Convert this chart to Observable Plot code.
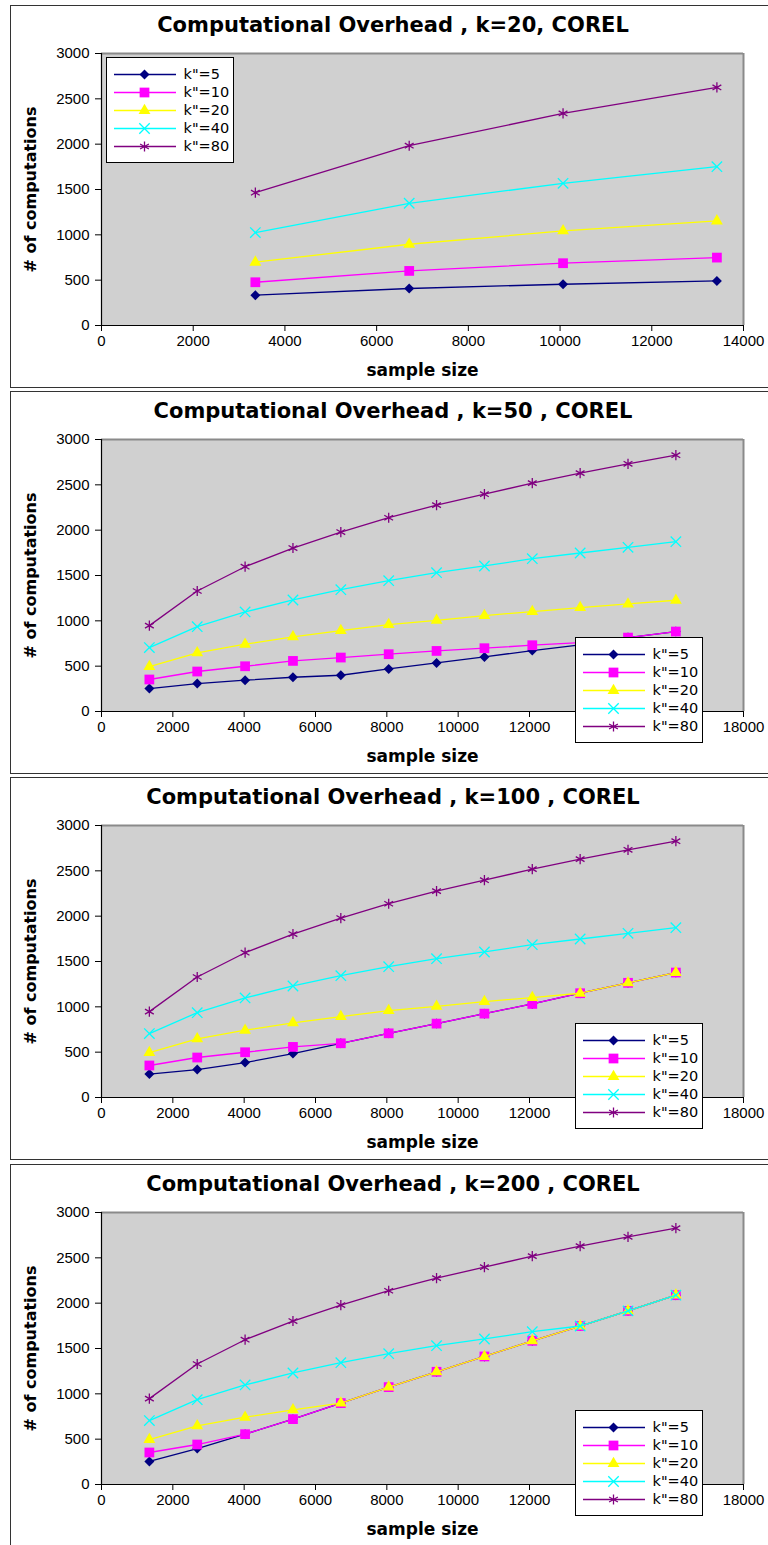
<!DOCTYPE html>
<html><head><meta charset="utf-8">
<script src="https://cdn.jsdelivr.net/npm/d3@7"></script>
<script src="https://cdn.jsdelivr.net/npm/@observablehq/plot@0.6"></script>
<style>
body{margin:0;background:#fff;width:768px;height:1545px;overflow:hidden;position:relative;}
.panel{position:absolute;left:10px;width:790px;height:383px;box-sizing:border-box;border:1px solid #333;background:#fff;}
.title{position:absolute;left:0;width:764px;text-align:center;top:7px;font-family:"DejaVu Sans",sans-serif;font-weight:bold;font-size:21px;line-height:24px;color:#000;}
.legend{position:absolute;width:128px;height:106px;box-sizing:border-box;border:1px solid #000;background:#fff;}
.panel svg{position:absolute;left:0;top:0;}
.legend svg{position:absolute;left:0;top:0;}
</style></head><body>
<script>
// ---- shared
const seriesLabels = ['k"=5', 'k"=10', 'k"=20', 'k"=40', 'k"=80'];
const seriesColors = ["#000080", "#ff00ff", "#ffff00", "#00ffff", "#800080"];
const seriesSymbols = ["diamond2", "square", "triangle", "times", "asterisk"];
const yTicks = [0, 500, 1000, 1500, 2000, 2500, 3000];
const xTicksK20 = [0, 2000, 4000, 6000, 8000, 10000, 12000, 14000];
const xTicksOther = [0, 2000, 4000, 6000, 8000, 10000, 12000, 14000, 16000, 18000];
// tick labels that are hidden under the legend box in the lower panels
const xTicksHiddenOther = [14000, 16000];
const titles = [
  "Computational Overhead , k=20, COREL",
  "Computational Overhead , k=50 , COREL",
  "Computational Overhead , k=100 , COREL",
  "Computational Overhead , k=200 , COREL"
];
const xLabel = "sample size";
const yLabel = "# of computations";

// ---- panel 1: k=20
const sizesK20 = [3355, 6710, 10065, 13420];
const k20_s5  = [334, 408, 455, 492];
const k20_s10 = [477, 602, 687, 749];
const k20_s20 = [698, 896, 1043, 1153];
const k20_s40 = [1025, 1348, 1568, 1752];
const k20_s80 = [1465, 1983, 2339, 2626];

// ---- panels 2-4 sample sizes
const sizes = [1342, 2684, 4026, 5368, 6710, 8052, 9394, 10736, 12078, 13420, 14762, 16104];

// ---- panel 2: k=50
const k50_s5  = [253, 308, 345, 378, 400, 470, 536, 602, 672, 735, 815, 882];
const k50_s10 = [353, 441, 499, 558, 595, 632, 668, 698, 731, 760, 815, 882];
const k50_s20 = [496, 646, 742, 823, 892, 958, 1006, 1058, 1102, 1146, 1186, 1227];
const k50_s40 = [705, 936, 1098, 1230, 1344, 1443, 1531, 1605, 1686, 1748, 1811, 1873];
const k50_s80 = [947, 1329, 1597, 1803, 1979, 2137, 2276, 2397, 2519, 2629, 2732, 2827];

// ---- panel 3: k=100
const k100_s5  = [258, 308, 385, 484, 598, 708, 815, 925, 1032, 1150, 1265, 1378];
const k100_s10 = [353, 441, 499, 558, 598, 708, 815, 925, 1032, 1150, 1265, 1378];
const k100_s20 = [496, 646, 742, 823, 892, 958, 1006, 1058, 1102, 1150, 1265, 1378];
const k100_s40 = [705, 936, 1098, 1230, 1344, 1443, 1531, 1605, 1686, 1748, 1811, 1873];
const k100_s80 = [947, 1329, 1597, 1803, 1979, 2137, 2276, 2397, 2519, 2629, 2732, 2827];

// ---- panel 4: k=200
const k200_s5  = [254, 397, 555, 721, 898, 1074, 1243, 1412, 1585, 1748, 1915, 2088];
const k200_s10 = [353, 441, 555, 721, 898, 1074, 1243, 1412, 1585, 1748, 1915, 2088];
const k200_s20 = [496, 646, 742, 823, 898, 1074, 1243, 1412, 1585, 1748, 1915, 2088];
const k200_s40 = [705, 936, 1098, 1230, 1344, 1443, 1531, 1605, 1686, 1748, 1915, 2088];
const k200_s80 = [947, 1329, 1597, 1803, 1979, 2137, 2276, 2397, 2519, 2629, 2732, 2827];

const seriesR = [4.5, 5.5, 4.4, 4.8, 4.8];

function isStroked(s) { return seriesSymbols[s] === "times" || seriesSymbols[s] === "asterisk"; }

function makeLegend(panel, left, top) {
  const div = document.createElement("div");
  div.className = "legend";
  div.style.left = left + "px";
  div.style.top = top + "px";
  panel.appendChild(div);
  const items = seriesLabels.map((label, s) => ({label, s}));
  const marks = [];
  items.forEach(it => {
    marks.push(Plot.ruleY([it], {y: "label", x1: 7, x2: 69, stroke: seriesColors[it.s], strokeWidth: 1.3}));
    marks.push(Plot.dot([it], {y: "label", x: 37, symbol: seriesSymbols[it.s], r: seriesR[it.s],
      fill: isStroked(it.s) ? "none" : seriesColors[it.s],
      stroke: isStroked(it.s) ? seriesColors[it.s] : "none", strokeWidth: 1.3}));
  });
  marks.push(Plot.text(items, {y: "label", x: 76, text: "label", textAnchor: "start",
    fontSize: 14.5, fontFamily: "DejaVu Sans", fill: "#000"}));
  const svg = Plot.plot({
    width: 126, height: 104, margin: 0,
    x: {domain: [0, 126], range: [0, 126], axis: null},
    y: {type: "point", domain: seriesLabels, range: [15, 89], padding: 0, axis: null},
    style: {background: "transparent", overflow: "visible"},
    marks
  });
  div.appendChild(svg);
}

function makePanel(top, title, xs, seriesVals, xMax, xTicks, hiddenTicks, legendLeft, legendTop) {
  const panel = document.createElement("div");
  panel.className = "panel";
  panel.style.top = top + "px";
  document.body.appendChild(panel);

  const marks = [
    Plot.frame({fill: "#d0d0d0", stroke: "none"}),
    Plot.ruleY([3000], {stroke: "#8a8a8a", strokeWidth: 2}),
    Plot.ruleX([xMax], {stroke: "#8a8a8a", strokeWidth: 2}),
    Plot.ruleX([0], {stroke: "#000", strokeWidth: 1.2}),
    Plot.ruleY([0], {stroke: "#000", strokeWidth: 1.2}),
    Plot.axisY({ticks: yTicks, tickSize: 6, tickPadding: 6, tickFormat: d => String(d), label: null}),
    Plot.axisX({ticks: xTicks, tickSize: 6, tickPadding: 4,
      tickFormat: d => hiddenTicks.includes(d) ? "" : String(d), label: null})
  ];
  seriesVals.forEach((vals, s) => {
    const data = vals.map((v, j) => ({x: xs[j], y: v}));
    marks.push(Plot.line(data, {x: "x", y: "y", stroke: seriesColors[s], strokeWidth: 1.3}));
    marks.push(Plot.dot(data, {x: "x", y: "y", symbol: seriesSymbols[s], r: seriesR[s],
      fill: isStroked(s) ? "none" : seriesColors[s],
      stroke: isStroked(s) ? seriesColors[s] : "none", strokeWidth: 1.3}));
  });
  marks.push(Plot.text([xLabel], {frameAnchor: "bottom", dy: 45, text: d => d,
    textAnchor: "middle", lineAnchor: "middle",
    fontWeight: "bold", fontSize: 17, fontFamily: "DejaVu Sans", fill: "#000"}));
  marks.push(Plot.text([yLabel], {frameAnchor: "left", dx: -71, rotate: -90, text: d => d,
    textAnchor: "middle", lineAnchor: "middle",
    fontWeight: "bold", fontSize: 16, fontFamily: "DejaVu Sans", fill: "#000"}));

  const svg = Plot.plot({
    width: 757, height: 381,
    marginLeft: 90, marginRight: 25, marginTop: 47, marginBottom: 62,
    x: {domain: [0, xMax], nice: false},
    y: {domain: [0, 3000], nice: false},
    style: {fontFamily: "Liberation Sans", fontSize: "15px", color: "#000", background: "transparent", overflow: "visible"},
    marks
  });
  panel.appendChild(svg);

  const t = document.createElement("div");
  t.className = "title";
  t.textContent = title;
  panel.appendChild(t);

  makeLegend(panel, legendLeft, legendTop);
}

makePanel(5, titles[0], sizesK20, [k20_s5, k20_s10, k20_s20, k20_s40, k20_s80], 14000, xTicksK20, [], 95, 51);
makePanel(391, titles[1], sizes, [k50_s5, k50_s10, k50_s20, k50_s40, k50_s80], 18000, xTicksOther, xTicksHiddenOther, 564, 245);
makePanel(777, titles[2], sizes, [k100_s5, k100_s10, k100_s20, k100_s40, k100_s80], 18000, xTicksOther, xTicksHiddenOther, 564, 245);
makePanel(1164, titles[3], sizes, [k200_s5, k200_s10, k200_s20, k200_s40, k200_s80], 18000, xTicksOther, xTicksHiddenOther, 564, 245);
</script>
</body></html>
